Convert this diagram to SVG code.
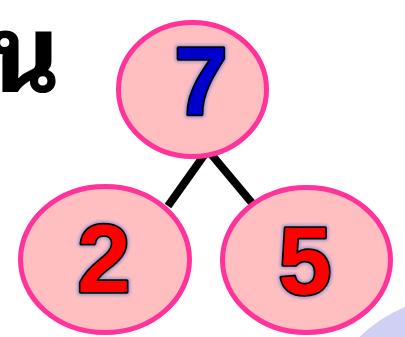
<svg xmlns="http://www.w3.org/2000/svg" width="405" height="337" viewBox="0 0 405 337">
<defs>
<filter id="glow" x="-30%" y="-30%" width="160%" height="160%">
<feGaussianBlur stdDeviation="1.8"/>
</filter>
</defs>
<style>
.node{fill:#ffbfc0;stroke:#ff3399;stroke-width:5}
.edge{stroke:#000;stroke-width:8;fill:none}
.num{font-family:"Liberation Sans",Arial,sans-serif;font-weight:bold;font-size:96px;text-anchor:middle;stroke:#000;stroke-width:3.5;paint-order:stroke;stroke-linejoin:round}
.halo{font-family:"Liberation Sans",Arial,sans-serif;font-weight:bold;font-size:96px;text-anchor:middle;fill:#a898d0;stroke:#a898d0;stroke-width:7;stroke-linejoin:round}
</style>
<rect width="405" height="337" fill="#fff"/>
<circle cx="460" cy="440" r="144" fill="#d0d0f4"/>
<text x="-10" y="92" font-family="'Noto Sans Thai Looped','Noto Sans Thai',sans-serif" font-weight="bold" font-size="108" fill="#000">น</text>
<g id="connectors">
<line class="edge" x1="205" y1="154" x2="168" y2="206"/>
<line class="edge" x1="211" y1="154" x2="252" y2="203"/>
</g>
<g id="node-7">
<ellipse class="node" cx="192.5" cy="89.5" rx="74" ry="67"/>
<text class="halo" x="201" y="115" filter="url(#glow)">7</text>
<text class="num" x="201" y="115" fill="#0000cc">7</text>
</g>
<g id="node-2">
<ellipse class="node" cx="105" cy="259.5" rx="84.5" ry="73"/>
<text class="halo" x="104" y="292" filter="url(#glow)">2</text>
<text class="num" x="104" y="292" fill="#ff0000">2</text>
</g>
<g id="node-5">
<ellipse class="node" cx="306.5" cy="260" rx="84" ry="72.5"/>
<text class="halo" x="305" y="294" filter="url(#glow)">5</text>
<text class="num" x="305" y="294" fill="#ff0000">5</text>
</g>
</svg>
